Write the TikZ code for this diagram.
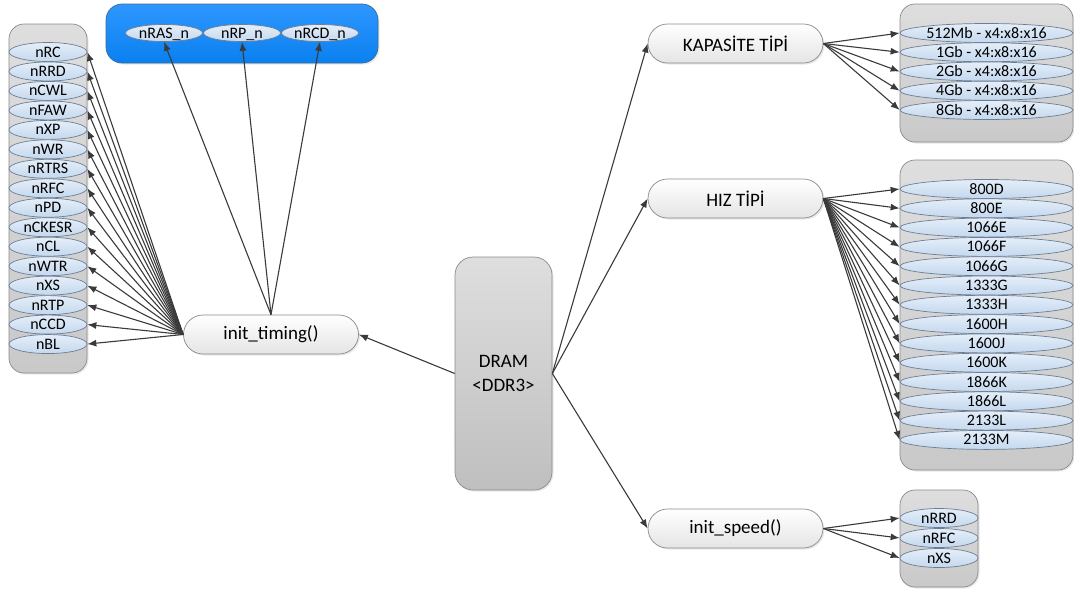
\documentclass[tikz,border=0pt]{standalone}
\usepackage{fontspec}
\setmainfont{Carlito}
\usetikzlibrary{shapes.geometric,arrows.meta,shadows}

\definecolor{boxedge}{HTML}{8A8A8A}
\definecolor{boxtop}{HTML}{DEDEDE}
\definecolor{boxbot}{HTML}{C9C9C9}
\definecolor{elltop}{HTML}{E4EEF9}
\definecolor{ellbot}{HTML}{C4D8EE}
\definecolor{elledge}{HTML}{6E7E92}
\definecolor{bluetop}{HTML}{2E97FF}
\definecolor{bluebot}{HTML}{0A80F0}
\definecolor{blueedge}{HTML}{3F6A94}
\definecolor{arrcol}{HTML}{3A3A3A}

\tikzset{
  softshadow/.style={drop shadow={opacity=0.18,shadow xshift=1.5pt,shadow yshift=-1.5pt}},
  container/.style={draw=boxedge,line width=0.7pt,top color=boxtop,bottom color=boxbot,
    rounded corners=15pt,softshadow},
  bluebox/.style={draw=blueedge,line width=0.7pt,top color=bluetop,bottom color=bluebot,
    rounded corners=16pt,softshadow},
  elli/.style={ellipse,draw=elledge,line width=0.7pt,top color=elltop,bottom color=ellbot,
    inner sep=0pt,text height=10pt,text depth=0pt,minimum height=19pt,
    font=\fontsize{16}{18}\selectfont},
  pill/.style={draw=boxedge,line width=0.7pt,top color=white,bottom color=boxtop!80,
    rounded corners=19.5pt,minimum width=175pt,minimum height=39pt,inner sep=0pt,
    font=\fontsize{19}{22}\selectfont,softshadow},
  dram/.style={draw=boxedge,line width=0.7pt,top color=boxtop,bottom color=boxbot!95!black,
    rounded corners=18pt,minimum width=97pt,minimum height=233pt,inner sep=0pt,
    align=center,font=\fontsize{19}{21}\selectfont,softshadow},
  arr/.style={draw=arrcol,line width=1.1pt,-{Latex[length=9pt,width=7pt]}},
}

\begin{document}
\begin{tikzpicture}[x=1pt,y=-1pt]
\useasboundingbox (0,0) rectangle (1074,590);

% grey containers and the blue group
\path[container] (9,24) rectangle (87,373);
\path[bluebox] (106,4) rectangle (378,63);
\path[container] (900,4) rectangle (1073,142);
\path[container] (900,160) rectangle (1073,470);
\path[container] (900,490) rectangle (978,587);

% timing parameters
\foreach \lbl [count=\i] in {nRC,nRRD,nCWL,nFAW,nXP,nWR,nRTRS,nRFC,nPD,nCKESR,nCL,nWTR,nXS,nRTP,nCCD,nBL}
  \node[elli,minimum width=78pt] (t\i) at (48,{52+(\i-1)*19.47}) {\lbl};

% parameters in the blue group
\node[elli,minimum width=77pt,minimum height=17pt] (b1) at (164,33) {nRAS\_n};
\node[elli,minimum width=77pt,minimum height=17pt] (b2) at (242,33) {nRP\_n};
\node[elli,minimum width=77pt,minimum height=17pt] (b3) at (320,33) {nRCD\_n};

% capacity types
\foreach \lbl [count=\i] in {512Mb - x4:x8:x16,1Gb - x4:x8:x16,2Gb - x4:x8:x16,4Gb - x4:x8:x16,8Gb - x4:x8:x16}
  \node[elli,minimum width=173pt] (c\i) at (986.5,{33+(\i-1)*19.25}) {\lbl};

% speed bins
\foreach \lbl [count=\i] in {800D,800E,1066E,1066F,1066G,1333G,1333H,1600H,1600J,1600K,1866K,1866L,2133L,2133M}
  \node[elli,minimum width=173pt] (s\i) at (986.5,{189+(\i-1)*19.3}) {\lbl};

% speed dependent parameters
\foreach \lbl [count=\i] in {nRRD,nRFC,nXS}
  \node[elli,minimum width=78pt] (r\i) at (939,{518+(\i-1)*20}) {\lbl};

% main nodes
\node[dram] (dram) at (503.5,373.5) {DRAM\\[3pt]<DDR3>};
\node[pill] (tim) at (271,334.5) {init\_timing()};
\node[pill] (cap) at (735.5,43.5) {KAPASİTE TİPİ};
\node[pill] (hiz) at (735.5,198.5) {HIZ TİPİ};
\node[pill] (spd) at (735.5,528.5) {init\_speed()};

% connectors
\draw[arr] (dram.west) -- (tim.east);
\draw[arr] (dram.east) -- (cap.west);
\draw[arr] (dram.east) -- (hiz.west);
\draw[arr] (dram.east) -- (spd.west);

\foreach \i in {1,...,16} \draw[arr] (tim.west) -- (t\i.east);
\foreach \i in {1,2,3} \draw[arr] (tim.north) -- (b\i.south);
\foreach \i in {1,...,5} \draw[arr] (cap.east) -- (c\i.west);
\foreach \i in {1,...,14} \draw[arr] (hiz.east) -- (s\i.west);
\foreach \i in {1,2,3} \draw[arr] (spd.east) -- (r\i.west);
\end{tikzpicture}
\end{document}
